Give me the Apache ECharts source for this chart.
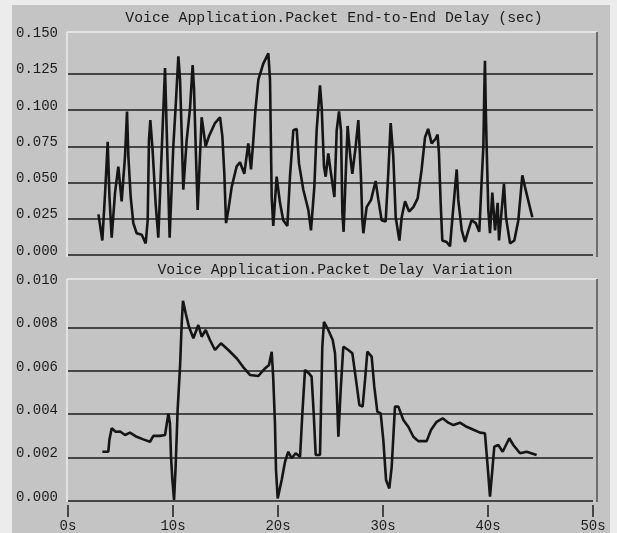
<!DOCTYPE html>
<html>
<head>
<meta charset="utf-8">
<script src="https://cdn.jsdelivr.net/npm/echarts@6/dist/echarts.min.js"></script>
<style>
  html, body { margin: 0; padding: 0; background: #ececec; }
  #chart { width: 617px; height: 533px; }
</style>
</head>
<body>
<div id="chart"></div>
<script>
// Simulation statistics: voice application, time in seconds
const titleDelay = 'Voice Application.Packet End-to-End Delay (sec)';
const titleJitter = 'Voice Application.Packet Delay Variation';

const timeTicks = [0, 10, 20, 30, 40, 50];
const delayTicks = [0, 0.025, 0.05, 0.075, 0.1, 0.125, 0.15];
const jitterTicks = [0, 0.002, 0.004, 0.006, 0.008, 0.01];

// End-to-end delay samples
const delayTime = [
  2.9, 3.27, 3.55, 3.78, 3.95, 4.16, 4.48, 4.79, 5.11, 5.43, 5.62, 5.75, 5.97, 6.22, 6.54,
  7.02, 7.40, 7.59, 7.71, 7.84, 8.06, 8.35, 8.6, 8.98, 9.24, 9.4, 9.68, 10.03, 10.25, 10.51,
  10.67, 10.8, 10.98, 11.3, 11.62, 11.87, 12.0, 12.19, 12.35, 12.73, 13.11, 13.43, 14.0, 14.48,
  14.7, 14.89, 15.05, 15.27, 15.59, 16.06, 16.38, 16.79, 17.17, 17.43, 17.65, 17.85, 18.13,
  18.6, 19.08, 19.24, 19.4, 19.55, 19.87, 20.19, 20.5, 20.89, 21.14, 21.46, 21.78, 22.0,
  22.41, 22.89, 23.14, 23.46, 23.68, 24.0, 24.16, 24.38, 24.54, 24.79, 25.05, 25.37, 25.59,
  25.81, 26.0, 26.13, 26.25, 26.44, 26.63, 26.86, 27.08, 27.4, 27.65, 27.9, 28.03, 28.13,
  28.44, 28.86, 29.3, 29.56, 29.87, 30.25, 30.5, 30.73, 30.98, 31.21, 31.56, 31.78, 32.1,
  32.48, 32.89, 33.3, 33.68, 34.0, 34.3, 34.63, 35.0, 35.2, 35.33, 35.49, 35.65, 36.06,
  36.38, 36.7, 37.02, 37.17, 37.5, 37.81, 38.13, 38.44, 38.83, 39.17, 39.4, 39.56, 39.65,
  39.71, 39.8, 39.87, 40.03, 40.19, 40.41, 40.67, 40.92, 41.05, 41.52, 41.71, 42.1, 42.51,
  42.89, 43.27, 43.52, 44.22
];
const delayValue = [
  0.028, 0.010, 0.045, 0.078, 0.040, 0.012, 0.043, 0.061, 0.037, 0.068, 0.099, 0.068, 0.040, 0.022, 0.015,
  0.014, 0.008, 0.024, 0.079, 0.093, 0.072, 0.035, 0.012, 0.082, 0.129, 0.086, 0.012, 0.075, 0.102, 0.137,
  0.121, 0.090, 0.045, 0.079, 0.101, 0.131, 0.115, 0.068, 0.031, 0.095, 0.075, 0.082, 0.091, 0.095,
  0.082, 0.056, 0.022, 0.031, 0.047, 0.061, 0.064, 0.056, 0.077, 0.059, 0.079, 0.100, 0.121,
  0.132, 0.139, 0.121, 0.040, 0.020, 0.054, 0.036, 0.024, 0.020, 0.054, 0.086, 0.087, 0.063,
  0.045, 0.031, 0.017, 0.047, 0.086, 0.117, 0.102, 0.061, 0.054, 0.070, 0.056, 0.040, 0.086,
  0.099, 0.086, 0.029, 0.016, 0.054, 0.089, 0.070, 0.056, 0.075, 0.093, 0.054, 0.024, 0.015,
  0.033, 0.038, 0.051, 0.038, 0.024, 0.023, 0.056, 0.091, 0.068, 0.026, 0.010, 0.026, 0.037,
  0.030, 0.033, 0.039, 0.059, 0.081, 0.087, 0.077, 0.080, 0.083, 0.070, 0.036, 0.010, 0.009,
  0.006, 0.033, 0.059, 0.038, 0.017, 0.009, 0.017, 0.024, 0.022, 0.016, 0.052, 0.075, 0.114,
  0.134, 0.097, 0.075, 0.031, 0.015, 0.043, 0.017, 0.036, 0.010, 0.049, 0.026, 0.008, 0.010,
  0.024, 0.055, 0.047, 0.026
];

// Delay variation samples
const jitterTime = [
  3.27, 3.84, 3.94, 4.16, 4.54, 4.97, 5.43, 5.9, 6.54, 7.17, 7.81, 8.13, 8.76, 9.24, 9.56,
  9.71, 9.81, 9.94, 10.1, 10.25, 10.44, 10.67, 10.83, 10.95, 11.21, 11.52, 11.94, 12.41,
  12.73, 13.11, 13.52, 14.0, 14.57, 15.27, 16.06, 16.79, 17.33, 18.13, 18.76, 19.14, 19.4,
  19.54, 19.71, 19.81, 19.97, 20.35, 20.67, 20.98, 21.3, 21.68, 22.1, 22.32, 22.57, 22.95,
  23.2, 23.4, 23.59, 24.0, 24.22, 24.38, 24.79, 25.21, 25.43, 25.59, 25.75, 25.97, 26.22,
  26.7, 27.08, 27.43, 27.75, 28.06, 28.29, 28.51, 28.92, 29.17, 29.46, 29.78, 30.03, 30.29,
  30.6, 30.83, 31.14, 31.46, 31.94, 32.41, 32.89, 33.36, 34.16, 34.57, 35.11, 35.68, 36.22,
  36.7, 37.33, 37.97, 38.67, 39.24, 39.71, 39.97, 40.19, 40.44, 40.6, 40.98, 41.4, 42.03,
  42.41, 43.05, 43.68, 44.63
];
const jitterValue = [
  0.00227, 0.00227, 0.00281, 0.00335, 0.00319, 0.00320, 0.00304, 0.00315, 0.00296, 0.00284, 0.00273, 0.00300, 0.00300, 0.00304, 0.00404,
  0.00358, 0.00204, 0.00097, 0.00005, 0.00158, 0.00419, 0.00619, 0.00819, 0.00923, 0.00865, 0.00803, 0.00750, 0.00811,
  0.00757, 0.00788, 0.00742, 0.00696, 0.00727, 0.00696, 0.00658, 0.00611, 0.00581, 0.00576, 0.00611, 0.00627, 0.00688,
  0.00573, 0.00358, 0.00143, 0.00012, 0.00097, 0.00181, 0.00227, 0.00197, 0.00220, 0.00204, 0.00404, 0.00604, 0.00588,
  0.00573, 0.00404, 0.00212, 0.00212, 0.00711, 0.00826, 0.00788, 0.00742, 0.00681, 0.00512, 0.00296, 0.00512, 0.00711,
  0.00696, 0.00681, 0.00558, 0.00442, 0.00435, 0.00558, 0.00688, 0.00665, 0.00527, 0.00412, 0.00404, 0.00281, 0.00097,
  0.00058, 0.00158, 0.00435, 0.00435, 0.00373, 0.00342, 0.00296, 0.00276, 0.00276, 0.00327, 0.00365, 0.00381, 0.00361,
  0.00350, 0.00361, 0.00342, 0.00327, 0.00315, 0.00312, 0.00158, 0.00020, 0.00158, 0.00250, 0.00258, 0.00227, 0.00289,
  0.00258, 0.00220, 0.00227, 0.00212
];

const FONT = '"Liberation Mono", "Courier New", monospace';
const INK = '#1c1c1c';
const PANEL = '#c4c4c4';

const zip = (xs, ys) => xs.map((x, i) => [x, ys[i]]);

function yAxisFor(gridIndex, ticks, digits) {
  const step = ticks[1] - ticks[0];
  return {
    type: 'value',
    gridIndex,
    min: ticks[0],
    max: ticks[ticks.length - 1],
    interval: step,
    axisLine: { show: false },
    axisTick: { show: false },
    axisLabel: {
      color: INK, fontFamily: FONT, fontSize: 14, margin: 10,
      verticalAlign: 'bottom', lineHeight: 8,
      formatter: v => v.toFixed(digits)
    },
    splitLine: {
      show: true, showMinLine: true, showMaxLine: false,
      lineStyle: { color: INK, width: 1.6 }
    }
  };
}

// Bevelled frame around one plot area
function frame(x0, y0, x1, y1) {
  return [
    { type: 'line', shape: { x1: x0, y1: y0, x2: x1, y2: y0 }, style: { stroke: '#ececec', lineWidth: 1.5 }, z: 1 },
    { type: 'line', shape: { x1: x0, y1: y0, x2: x0, y2: y1 }, style: { stroke: '#ececec', lineWidth: 1.5 }, z: 1 },
    { type: 'line', shape: { x1: x1, y1: y0, x2: x1, y2: y1 }, style: { stroke: '#505050', lineWidth: 1.5 }, z: 1 }
  ];
}

const chart = echarts.init(document.getElementById('chart'), null, { renderer: 'canvas' });
chart.setOption({
  animation: false,
  backgroundColor: 'transparent',
  graphic: [
    { type: 'rect', shape: { x: 12, y: 5, width: 598, height: 528 }, style: { fill: PANEL }, z: -10, silent: true },
    ...frame(67, 32, 597, 257),
    ...frame(67, 279, 597, 502)
  ],
  title: [
    { text: titleDelay, left: 329, top: 6, textAlign: 'center',
      textStyle: { fontFamily: FONT, fontSize: 14.8, fontWeight: 'normal', color: INK } },
    { text: titleJitter, left: 330, top: 258, textAlign: 'center',
      textStyle: { fontFamily: FONT, fontSize: 14.8, fontWeight: 'normal', color: INK } }
  ],
  grid: [
    { left: 68, right: 24, top: 37.5, bottom: 278 },
    { left: 68, right: 24, top: 284, bottom: 32 }
  ],
  xAxis: [
    { type: 'value', gridIndex: 0, min: timeTicks[0], max: timeTicks[timeTicks.length - 1],
      interval: timeTicks[1] - timeTicks[0],
      axisLine: { show: false }, axisTick: { show: false }, axisLabel: { show: false },
      splitLine: { show: false } },
    { type: 'value', gridIndex: 1, min: timeTicks[0], max: timeTicks[timeTicks.length - 1],
      interval: timeTicks[1] - timeTicks[0], offset: 4, position: 'bottom',
      axisLine: { show: false, onZero: false },
      axisTick: { show: true, length: 12, lineStyle: { color: INK, width: 1.5 } },
      axisLabel: { color: INK, fontFamily: FONT, fontSize: 14, margin: 14,
        showMinLabel: true, showMaxLabel: true, formatter: v => v + 's' },
      splitLine: { show: false } }
  ],
  yAxis: [
    yAxisFor(0, delayTicks, 3),
    yAxisFor(1, jitterTicks, 3)
  ],
  series: [
    { type: 'line', xAxisIndex: 0, yAxisIndex: 0, data: zip(delayTime, delayValue),
      showSymbol: false, lineStyle: { color: '#151515', width: 2.6 }, z: 5 },
    { type: 'line', xAxisIndex: 1, yAxisIndex: 1, data: zip(jitterTime, jitterValue),
      showSymbol: false, lineStyle: { color: '#151515', width: 2.6 }, z: 5 }
  ]
});
</script>
</body>
</html>
